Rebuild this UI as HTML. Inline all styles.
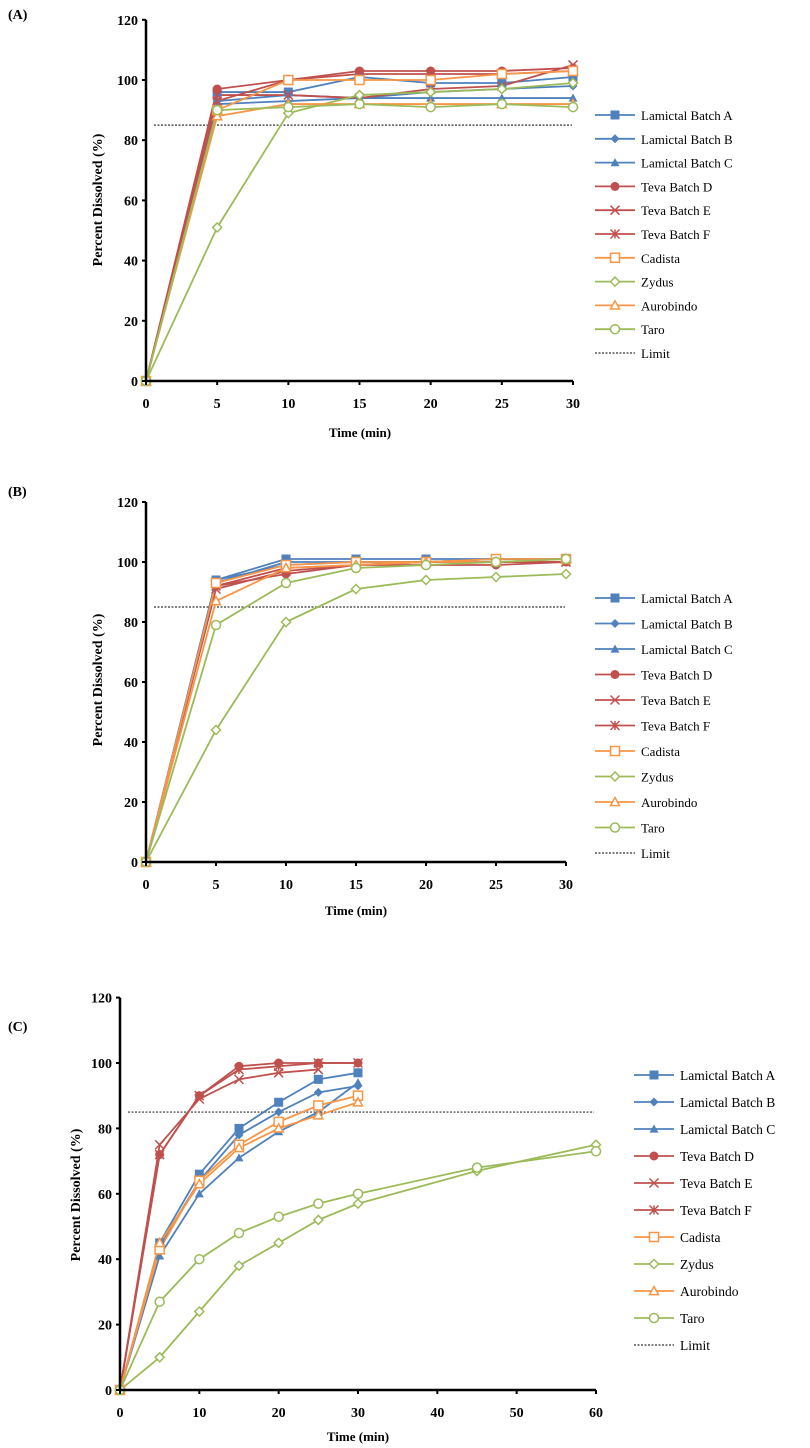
<!DOCTYPE html>
<html><head><meta charset="utf-8"><style>
html,body{margin:0;padding:0;background:#fff;}
svg{display:block;font-family:"Liberation Serif",serif;}
</style></head><body>
<svg id="s" width="810" height="1448" viewBox="0 0 810 1448" xmlns="http://www.w3.org/2000/svg">
<text x="8" y="19" font-size="14" font-weight="bold">(A)</text>
<text x="8" y="496" font-size="14" font-weight="bold">(B)</text>
<text x="8" y="1031" font-size="14" font-weight="bold">(C)</text>
<text transform="translate(102,200) rotate(-90)" font-size="14" font-weight="bold" text-anchor="middle">Percent Dissolved (%)</text>
<text transform="translate(102,680) rotate(-90)" font-size="14" font-weight="bold" text-anchor="middle">Percent Dissolved (%)</text>
<text transform="translate(80,1195) rotate(-90)" font-size="14" font-weight="bold" text-anchor="middle">Percent Dissolved (%)</text>
<text x="360" y="437" font-size="13" font-weight="bold" text-anchor="middle">Time (min)</text>
<text x="356" y="915" font-size="13" font-weight="bold" text-anchor="middle">Time (min)</text>
<text x="358" y="1441" font-size="13" font-weight="bold" text-anchor="middle">Time (min)</text>
</svg>
<script>
var NS="http://www.w3.org/2000/svg",S=document.getElementById('s');
function el(t,a,txt){var e=document.createElementNS(NS,t);for(var k in a)e.setAttribute(k,a[k]);if(txt!=null)e.textContent=txt;S.appendChild(e);return e;}
var B="#4f81bd",R="#c0504d",O="#f79646",G="#9bbb59";
var names=["Lamictal Batch A","Lamictal Batch B","Lamictal Batch C","Teva Batch D","Teva Batch E","Teva Batch F","Cadista","Zydus","Aurobindo","Taro"];
var cols=[B,B,B,R,R,R,O,G,O,G];
var mk=["sq","dia","tri","cir","x","star","osq","odia","otri","ocir"];
function marker(m,x,y,c){
 var s=4.5;
 if(m=="sq")el('rect',{x:x-s,y:y-s,width:2*s,height:2*s,fill:c});
 else if(m=="osq")el('rect',{x:x-s,y:y-s,width:2*s,height:2*s,fill:'#fff',stroke:c,'stroke-width':1.5});
 else if(m=="dia")el('polygon',{points:[x,y-s,x+s,y,x,y+s,x-s,y].join(' '),fill:c});
 else if(m=="odia")el('polygon',{points:[x,y-s,x+s,y,x,y+s,x-s,y].join(' '),fill:'#fff',stroke:c,'stroke-width':1.5});
 else if(m=="tri")el('polygon',{points:[x,y-s,x+s,y+s*0.8,x-s,y+s*0.8].join(' '),fill:c});
 else if(m=="otri")el('polygon',{points:[x,y-s,x+s,y+s*0.8,x-s,y+s*0.8].join(' '),fill:'#fff',stroke:c,'stroke-width':1.5});
 else if(m=="cir")el('circle',{cx:x,cy:y,r:s,fill:c});
 else if(m=="ocir")el('circle',{cx:x,cy:y,r:s,fill:'#fff',stroke:c,'stroke-width':1.5});
 else if(m=="x"){el('path',{d:'M'+(x-s)+' '+(y-s)+'L'+(x+s)+' '+(y+s)+'M'+(x+s)+' '+(y-s)+'L'+(x-s)+' '+(y+s),stroke:c,'stroke-width':1.5});}
 else if(m=="star"){el('path',{d:'M'+(x-s)+' '+(y-s)+'L'+(x+s)+' '+(y+s)+'M'+(x+s)+' '+(y-s)+'L'+(x-s)+' '+(y+s)+'M'+x+' '+(y-s)+'L'+x+' '+(y+s),stroke:c,'stroke-width':1.5});}
}
function panel(p){
 var X=function(t){return p.x0+t*(p.x1-p.x0)/p.xmax;},Y=function(v){return p.y0-v*p.k;};
 el('line',{x1:X(0)+8,x2:p.limX,y1:Y(85),y2:Y(85),stroke:'#333','stroke-width':1.2,'stroke-dasharray':'2,1.5'});
 for(var i=0;i<10;i++){
  var d=p.data[i],pts=[];
  for(var j=0;j<d.length;j++)pts.push(X(p.t[j])+','+Y(d[j]));
  el('polyline',{points:pts.join(' '),fill:'none',stroke:cols[i],'stroke-width':1.8});
 }
 for(var i=0;i<10;i++){var d=p.data[i];for(var j=0;j<d.length;j++)marker(mk[i],X(p.t[j]),Y(d[j]),cols[i]);}
 el('line',{x1:p.x0,x2:p.x0,y1:Y(120),y2:p.y0,stroke:'#000','stroke-width':2.5});
 el('line',{x1:p.x0,x2:p.x1,y1:p.y0,y2:p.y0,stroke:'#000','stroke-width':2.5});
 for(var v=0;v<=120;v+=20){el('line',{x1:p.x0-4,x2:p.x0,y1:Y(v),y2:Y(v),stroke:'#000','stroke-width':2});
  el('text',{x:p.x0-8,y:Y(v)+5,'font-size':14,'font-weight':'bold','text-anchor':'end'},String(v));}
 for(var t=0;t<=p.xmax;t+=p.xs){el('line',{x1:X(t),x2:X(t),y1:p.y0,y2:p.y0+4,stroke:'#000','stroke-width':2});
  el('text',{x:X(t),y:p.y0+27,'font-size':14,'font-weight':'bold','text-anchor':'middle'},String(t));}
 for(var i=0;i<11;i++){var y=p.ly+i*p.ls;
  if(i<10){el('line',{x1:p.lx,x2:p.lx+40,y1:y,y2:y,stroke:cols[i],'stroke-width':1.8});marker(mk[i],p.lx+20,y,cols[i]);}
  else el('line',{x1:p.lx,x2:p.lx+40,y1:y,y2:y,stroke:'#333','stroke-width':1.2,'stroke-dasharray':'2,1.5'});
  el('text',{x:p.lx+46,y:y+5,'font-size':p.fs},i<10?names[i]:'Limit');}
}
var T7=[0,5,10,15,20,25,30];
panel({x0:146,x1:573,xmax:30,xs:5,y0:381,k:3.01,limX:572,lx:595,ly:115,ls:23.8,fs:13,t:T7,data:[
[0,96,96,101,99,99,101],[0,93,95,94,96,97,98],[0,92,93,94,94,94,94],[0,97,100,103,103,103,104],[0,95,95,94,97,98,105],[0,93,100,102,102,102,103],[0,90,100,100,100,102,103],[0,51,89,95,96,97,99],[0,88,92,92,92,92,92],[0,90,91,92,91,92,91]]});
panel({x0:146,x1:566,xmax:30,xs:5,y0:862,k:3.0,limX:565,lx:595,ly:598,ls:25.5,fs:13,t:T7,data:[
[0,94,101,101,101,101,101],[0,93,100,100,100,101,101],[0,94,99,100,100,101,101],[0,92,96,99,99,99,100],[0,91,97,99,100,100,100],[0,92,98,99,100,100,100],[0,93,99,100,100,101,101],[0,44,80,91,94,95,96],[0,87,98,99,100,100,101],[0,79,93,98,99,100,101]]});
panel({x0:120,x1:596,xmax:60,xs:10,y0:1390,k:3.27,limX:594,lx:634,ly:1075,ls:27,fs:13.5,t:[0,5,10,15,20,25,30,45,60],data:[
[0,45,66,80,88,95,97],[0,44,64,78,85,91,93],[0,41,60,71,79,85,94],[0,72,90,99,100,100,100],[0,75,89,95,97,98],[0,72,90,98,99,100,100],[0,43,64,75,82,87,90],[0,10,24,38,45,52,57,67,75],[0,45,63,74,80,84,88],[0,27,40,48,53,57,60,68,73]]});
</script>
</body></html>
